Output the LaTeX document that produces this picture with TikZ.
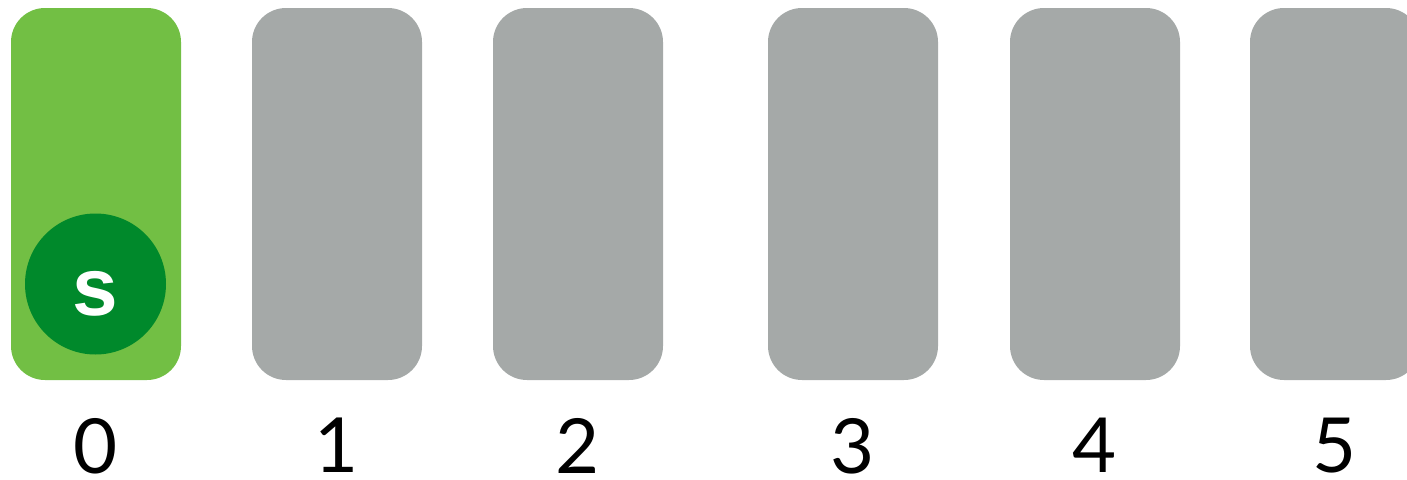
\documentclass[tikz,border=0pt]{standalone}
\usepackage{fontspec}
\setmainfont{Lato}
\newfontfamily\slotfont{Liberation Sans}
\definecolor{slotGreen}{RGB}{114, 191,  68}
\definecolor{slotDark} {RGB}{  0, 137,  43}
\definecolor{slotGray} {RGB}{165, 169, 168}
\usetikzlibrary{positioning}

\begin{document}
\begin{tikzpicture}[
  x=1pt, y=-1pt,
  slot/.style={rectangle, rounded corners=34pt, minimum width=170pt, minimum height=372pt,
    inner sep=0pt, outer sep=0pt, fill=slotGray},
  num/.style={inner sep=0pt, text depth=0pt, font=\fontsize{76}{76}\selectfont, text=black},
]
  \clip (0,0) rectangle (1407,479);

  % Slots
  \node[slot, fill=slotGreen] (b0) at (96,194) {};
  \node[slot, right=71pt of b0]  (b1) {};
  \node[slot, right=71pt of b1]  (b2) {};
  \node[slot, right=105pt of b2] (b3) {};
  \node[slot, right=72pt of b3]  (b4) {};
  \node[slot, right=70pt of b4]  (b5) {};

  % Marker
  \node[circle, fill=slotDark, minimum size=141pt, inner sep=0pt,
    label={[text=white, yshift=-10pt, font=\slotfont\bfseries\fontsize{82}{82}\selectfont]center:s}]
    (mark) at (95.5,284) {};

  % Slot numbers
  \node[num, below=38pt of b0] (n0) {0};
  \node[num, below=38pt of b1] (n1) {1};
  \node[num, below=38pt of b2] (n2) {2};
  \node[num, below=38pt of b3] (n3) {3};
  \node[num, below=38pt of b4] (n4) {4};
  \node[num, below=38pt of b5] (n5) {5};
\end{tikzpicture}
\end{document}
